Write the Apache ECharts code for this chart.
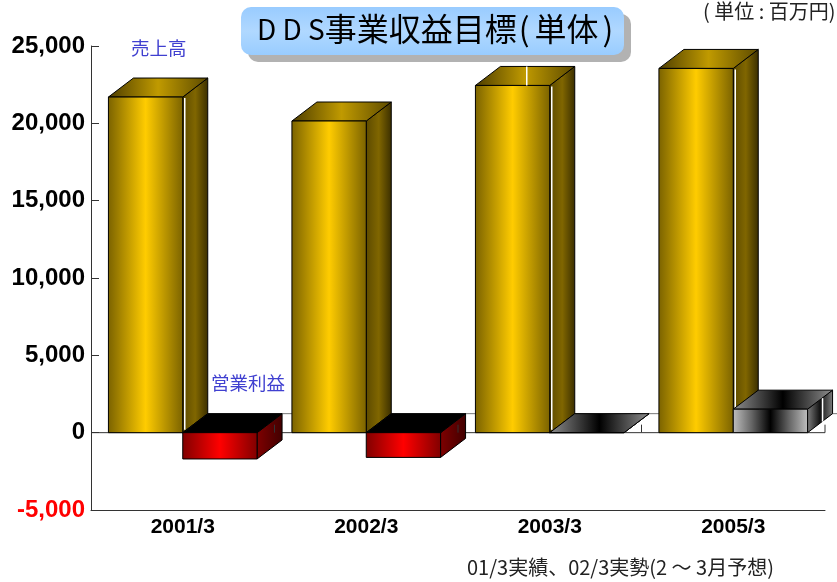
<!DOCTYPE html>
<html>
<head>
<meta charset="utf-8">
<style>html,body{margin:0;padding:0;background:#fff}#main{width:837px;height:582px}</style>
<script src="https://cdn.jsdelivr.net/npm/echarts@6/dist/echarts.min.js"></script>
</head>
<body>
<div id="main"></div>
<script>
var categories = ['2001/3', '2002/3', '2003/3', '2005/3'];
var sales = [21700, 20150, 22450, 23550];
var profit = [-1700, -1600, 0, 1520];
var zeroLine = [0, 0, 0, 0];

var dx = 25, dy = 19;

function hGrad(stops) {
    var colorStops = stops.map(function (c, i) {
        return {offset: i / (stops.length - 1), color: c};
    });
    return {type: 'linear', x: 0, y: 0, x2: 1, y2: 0, colorStops: colorStops};
}

var gold = {
    front: hGrad(['#7a6200', '#ffcc00', '#7a6200']),
    top: hGrad(['#4d3d00', '#c09a00', '#5c4a00']),
    side: hGrad(['#5c4a00', '#806600', '#3a2e00'])
};
var red = {
    front: hGrad(['#800000', '#ff0000', '#800000']),
    top: '#000',
    side: hGrad(['#800000', '#400000'])
};
var grey = {
    front: hGrad(['#c0c0c0', '#666', '#000', '#666', '#c0c0c0']),
    top: hGrad(['#909090', '#000', '#909090']),
    side: hGrad(['#808080', '#111', '#808080'])
};

function poly(points, fill) {
    return {type: 'polygon', shape: {points: points}, style: {fill: fill, stroke: '#000', lineWidth: 1}};
}

function whiteLine(x, y1, y2) {
    return {type: 'line', shape: {x1: x, y1: y1, x2: x, y2: y2}, style: {stroke: '#fff', lineWidth: 1.5}};
}

// draw one box, x0..x1 wide, between y0 (zero) and the value
function box(x0, x1, yVal, y0, c) {
    var top = Math.min(yVal, y0), bot = Math.max(yVal, y0);
    return {
        type: 'group',
        children: [
            poly([[x1, top], [x1 + dx, top - dy], [x1 + dx, bot - dy], [x1, bot]], c.side),
            poly([[x0, top], [x0 + dx, top - dy], [x1 + dx, top - dy], [x1, top]], c.top),
            poly([[x0, top], [x1, top], [x1, bot], [x0, bot]], c.front)
        ]
    };
}

function renderPlane(params, api) {
    var p = api.coord([api.value(0), api.value(1)]);
    var band = api.size([1, 0])[0];
    var l = p[0] - band / 2, r = p[0] + band / 2;
    return {
        type: 'group',
        children: [
            {type: 'line', shape: {x1: l + dx, y1: p[1] - dy, x2: r + dx + 12, y2: p[1] - dy}, style: {stroke: '#777', lineWidth: 1}},
            {type: 'line', shape: {x1: l, y1: p[1], x2: r, y2: p[1]}, style: {stroke: '#333', lineWidth: 1}}
        ]
    };
}

function renderZeroTick(params, api) {
    var p = api.coord([api.value(0), api.value(1)]);
    var r = p[0] + api.size([1, 0])[0] / 2;
    return {type: 'line', shape: {x1: r, y1: p[1] - 8, x2: r, y2: p[1]}, style: {stroke: '#333', lineWidth: 1}};
}

function renderSales(params, api) {
    var p = api.coord([api.value(0), api.value(1)]);
    var base = api.coord([api.value(0), 0]);
    var w = api.size([1, 0])[0] * 0.405;
    var g = box(p[0] - w, p[0], p[1], base[1], gold);
    // the source picture has hairline gaps on some bars
    if (params.dataIndex !== 1) {
        g.children.push(whiteLine(p[0] + 2, p[1] + 1, base[1] - 3));
    }
    if (params.dataIndex === 2) {
        g.children.push(whiteLine(p[0] - 23, p[1] - dy, p[1]));
    }
    return g;
}

function renderProfit(params, api) {
    var v = api.value(1);
    var p = api.coord([api.value(0), v]);
    var base = api.coord([api.value(0), 0]);
    var w = api.size([1, 0])[0] * 0.405;
    var g = box(p[0], p[0] + w, p[1], base[1], v < 0 ? red : grey);
    if (v > 0) {
        g.children.push(whiteLine(p[0] + w + 15, p[1] - 11, base[1] - 11));
    }
    return g;
}

function pairs(values) {
    return values.map(function (v, i) { return [i, v]; });
}

var myChart = echarts.init(document.getElementById('main'));
var option = {
    animation: false,
    backgroundColor: '#fff',
    grid: {left: 91, right: 12, top: 46, bottom: 72},
    xAxis: {
        type: 'category',
        data: categories,
        axisLine: {onZero: false, lineStyle: {color: '#333', width: 1}},
        axisTick: {inside: true, length: 8, lineStyle: {color: '#333'}},
        axisLabel: {
            margin: 7,
            color: '#000',
            fontFamily: 'Liberation Sans',
            fontWeight: 'bold',
            fontSize: 21
        }
    },
    yAxis: {
        type: 'value',
        min: -5000,
        max: 25000,
        interval: 5000,
        splitLine: {show: false},
        axisLine: {show: true, lineStyle: {color: '#333', width: 1}},
        axisTick: {show: true, inside: true, length: 8, lineStyle: {color: '#333'}},
        axisLabel: {
            margin: 6,
            padding: [6, 0, 0, 0],
            fontFamily: 'Liberation Sans',
            fontWeight: 'bold',
            fontSize: 24,
            color: function (v) { return v < 0 ? '#ff0000' : '#000'; },
            formatter: function (v) { return echarts.format.addCommas(v); }
        }
    },
    series: [
        {type: 'custom', name: '基準', renderItem: renderPlane, data: pairs(zeroLine), z: 2},
        {type: 'custom', name: '売上高', renderItem: renderSales, data: pairs(sales), z: 3},
        {type: 'custom', name: '営業利益', renderItem: renderProfit, data: pairs(profit), z: 4},
        {type: 'custom', name: '目盛', renderItem: renderZeroTick, data: pairs(zeroLine), z: 5}
    ],
    graphic: [
        {type: 'rect', left: 248, top: 14, shape: {width: 383, height: 48, r: 10}, style: {fill: '#b2b2b2'}, z: 10},
        {
            type: 'rect', left: 241, top: 7, shape: {width: 383, height: 48, r: 10},
            style: {fill: {type: 'linear', x: 0, y: 0, x2: 0, y2: 1, colorStops: [
                {offset: 0, color: '#99ccff'}, {offset: 0.5, color: '#b0d8ff'}, {offset: 1, color: '#99ccff'}
            ]}},
            z: 11
        },
        {
            type: 'text', left: 257, top: 13,
            style: {
                text: '{a|D D S}{b|事業収益目標}{p|(}{b|単体}{q|)}',
                rich: {
                    a: {fontFamily: 'Noto Sans CJK JP', fontSize: 28, fill: '#000'},
                    b: {fontFamily: 'Noto Sans CJK JP', fontSize: 32, fill: '#000'},
                    p: {fontFamily: 'Noto Sans CJK JP', fontSize: 32, fill: '#000', padding: [0, 5, 0, 2]},
                    q: {fontFamily: 'Noto Sans CJK JP', fontSize: 32, fill: '#000', padding: [0, 0, 0, 4]}
                }
            },
            z: 12
        },
        {type: 'text', left: 703, top: 1, style: {text: '( 単位 : 百万円)', fontFamily: 'Noto Sans CJK JP', fontSize: 20, fill: '#222'}, z: 12},
        {type: 'text', left: 131, top: 39, style: {text: '売上高', fontFamily: 'Noto Sans CJK JP', fontSize: 18.5, fill: '#4040d0'}, z: 12},
        {type: 'text', left: 211, top: 374, style: {text: '営業利益', fontFamily: 'Noto Sans CJK JP', fontSize: 18.5, fill: '#4040d0'}, z: 12},
        {type: 'text', left: 467, top: 557, style: {text: '01/3実績、02/3実勢(2 ～ 3月予想)', fontFamily: 'Noto Sans CJK JP', fontSize: 20, fill: '#222'}, z: 12}
    ]
};
myChart.setOption(option);
</script>
</body>
</html>
